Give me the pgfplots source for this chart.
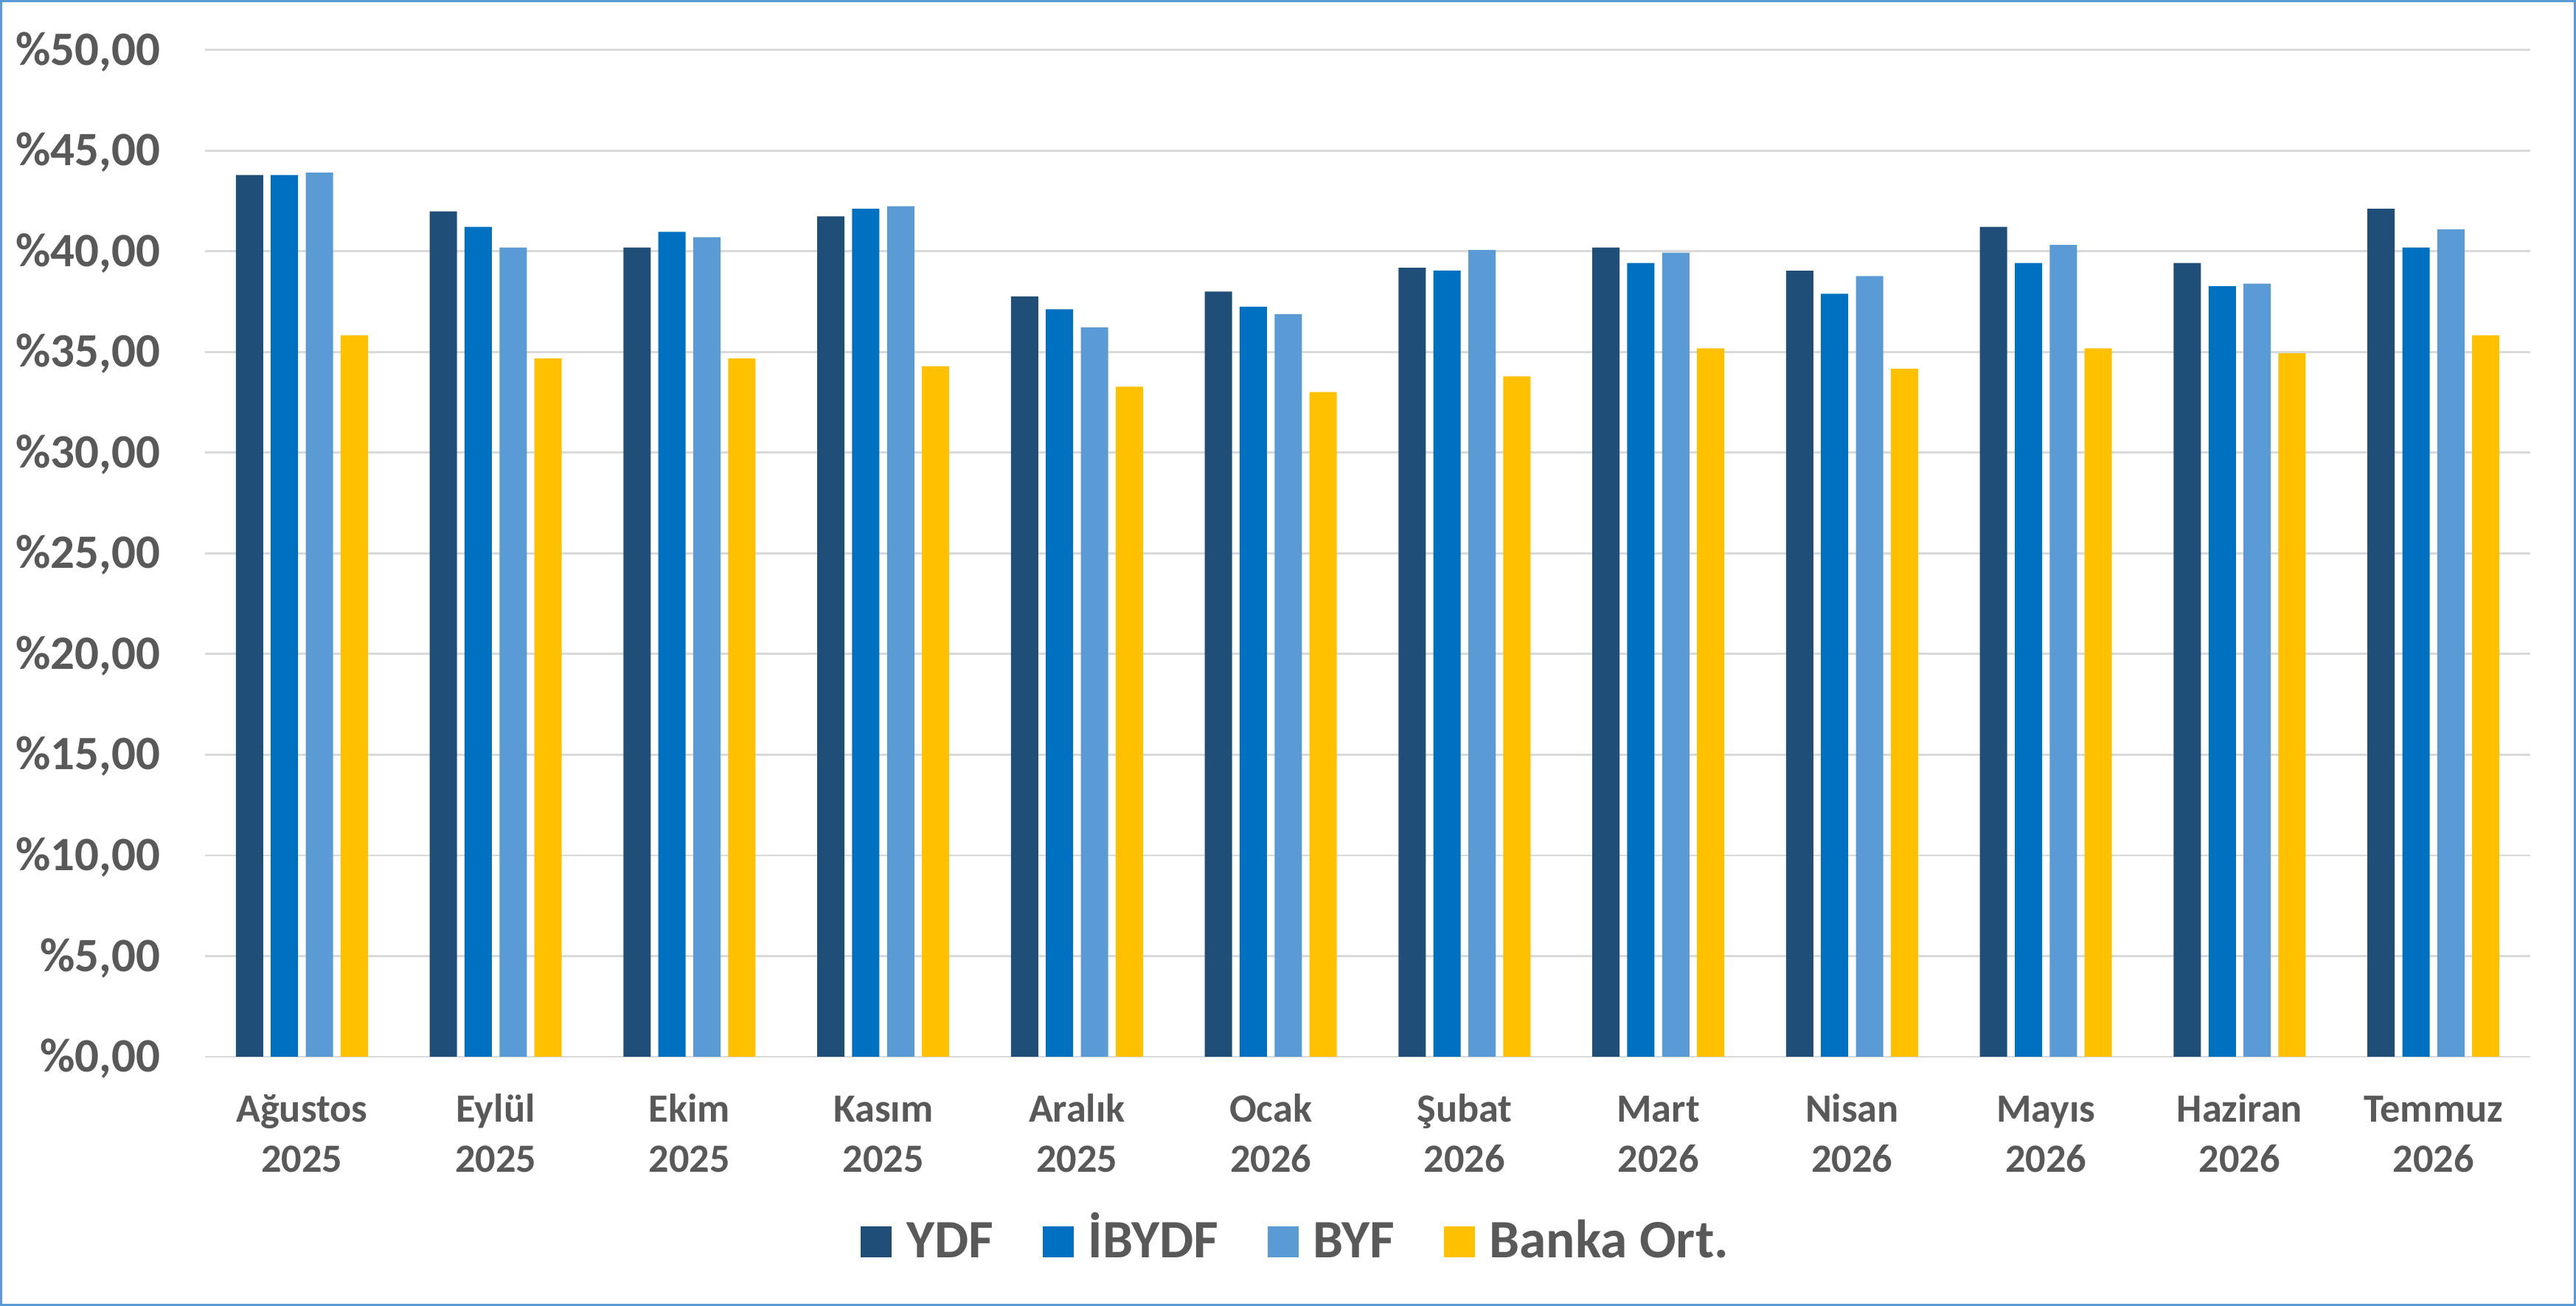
\documentclass[border=0pt]{standalone}
\usepackage{pgfplots}
\pgfplotsset{compat=1.18}
\usepackage{fontspec}
\setmainfont{Carlito}
\definecolor{cYDF}{HTML}{1F4E79}
\definecolor{cIB}{HTML}{0070C0}
\definecolor{cBYF}{HTML}{5B9BD5}
\definecolor{cBank}{HTML}{FFC000}
\definecolor{txt}{HTML}{595959}
\definecolor{grd}{HTML}{D9D9D9}
\definecolor{frm}{HTML}{5B9BD5}
\begin{document}
\begin{tikzpicture}
\path[use as bounding box] (0,0) rectangle (1048pt,531.3pt);
\draw[frm, line width=0.9pt] (0.5pt,0.5pt) rectangle (1047.5pt,530.8pt);
\begin{axis}[
  at={(83.4pt,101.4pt)}, anchor=south west,
  scale only axis, width=946pt, height=409.6pt,
  ybar=3.1pt, bar width=11.1pt,
  xmin=-0.5, xmax=11.5, ymin=0, ymax=50,
  xtick={0,...,11},
  xticklabels={{Ağustos\\2025},{Eylül\\2025},{Ekim\\2025},{Kasım\\2025},{Aralık\\2025},{Ocak\\2026},{Şubat\\2026},{Mart\\2026},{Nisan\\2026},{Mayıs\\2026},{Haziran\\2026},{Temmuz\\2026}},
  ytick={0,5,...,50},
  yticklabels={{\%0,00},{\%5,00},{\%10,00},{\%15,00},{\%20,00},{\%25,00},{\%30,00},{\%35,00},{\%40,00},{\%45,00},{\%50,00}},
  ymajorgrids, grid style={grd, line width=0.8pt},
  axis line style={draw=none},
  major tick length=0pt,
  yticklabel style={anchor=base east, inner sep=0pt, xshift=-18pt, yshift=-6.2pt, text=txt, font=\fontsize{19.5}{23}\selectfont\bfseries},
  xticklabel style={anchor=base, inner sep=0pt, yshift=-47.1pt, align=center, text=txt, font=\fontsize{16.3}{20.5}\selectfont\bfseries},
  legend columns=4,
  legend image code/.code={\fill[#1] (0pt,0pt) rectangle (12.6pt,12.6pt);},
  legend style={at={(0.4697,-0.1787)}, anchor=center, draw=none, fill=none,
    font=\fontsize{22}{26}\selectfont\bfseries, text=txt,
    cells={anchor=base west, inner xsep=0pt},
    /tikz/every odd column/.style={column sep=4pt},
    /tikz/every even column/.style={column sep=18pt}},
]
\addplot[fill=cYDF, draw=none] coordinates {(0,43.78) (1,41.98) (2,40.19) (3,41.73) (4,37.75) (5,38.00) (6,39.18) (7,40.19) (8,39.03) (9,41.21) (10,39.42) (11,42.11)};
\addplot[fill=cIB, draw=none] coordinates {(0,43.78) (1,41.21) (2,40.96) (3,42.11) (4,37.12) (5,37.25) (6,39.04) (7,39.42) (8,37.89) (9,39.42) (10,38.26) (11,40.19)};
\addplot[fill=cBYF, draw=none] coordinates {(0,43.90) (1,40.19) (2,40.70) (3,42.24) (4,36.22) (5,36.87) (6,40.07) (7,39.93) (8,38.77) (9,40.31) (10,38.39) (11,41.08)};
\addplot[fill=cBank, draw=none] coordinates {(0,35.83) (1,34.67) (2,34.67) (3,34.29) (4,33.27) (5,33.01) (6,33.79) (7,35.18) (8,34.16) (9,35.18) (10,34.93) (11,35.83)};
\legend{YDF,İBYDF,BYF,Banka Ort.}
\end{axis}
\end{tikzpicture}
\end{document}
